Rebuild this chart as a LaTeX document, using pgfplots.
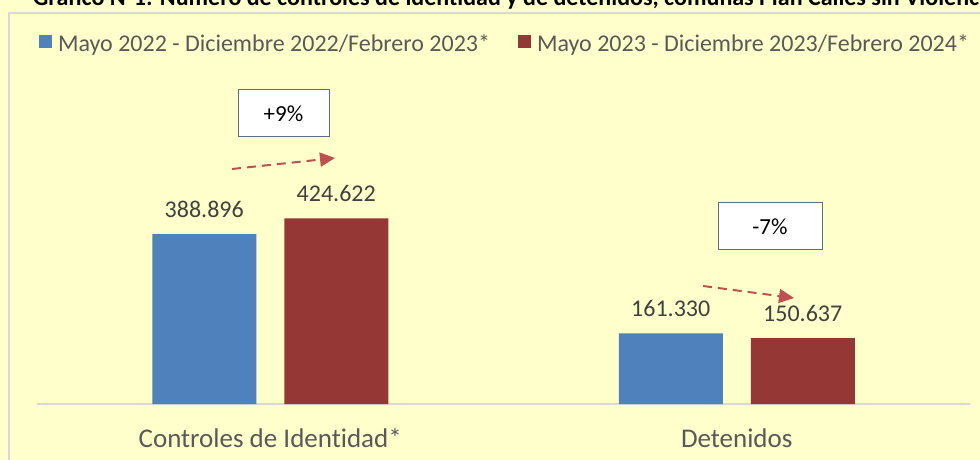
\documentclass[border=0pt]{standalone}
\usepackage{fontspec}
\setmainfont{Carlito}[Ligatures={NoCommon}]
\usepackage{pgfplots}
\pgfplotsset{compat=1.18}
\usetikzlibrary{arrows.meta}
\definecolor{bg}{HTML}{FFFFCC}
\definecolor{framec}{HTML}{D9D9D9}
\definecolor{blueS}{HTML}{4F81BD}
\definecolor{redS}{HTML}{953735}
\definecolor{arr}{HTML}{C0504D}
\definecolor{txt}{HTML}{595959}
\definecolor{lbl}{HTML}{404040}
\definecolor{boxc}{HTML}{5A6F83}
\begin{document}
\begin{tikzpicture}
\path[use as bounding box] (0bp,0bp) rectangle (980bp,460bp);
\clip (0bp,0bp) rectangle (980bp,460bp);
\fill[bg] (0bp,0bp) rectangle (980bp,460bp);
\draw[framec, line width=1.5bp] (9bp,-5bp) -- (9bp,447bp) -- (990bp,447bp);
\node[anchor=base west, inner sep=0pt, font=\fontsize{24bp}{28bp}\selectfont\bfseries] at (33bp,454bp) {Gráfico N°1: Número de controles de identidad y de detenidos, comunas Plan Calles sin Violencia};
\begin{axis}[
  at={(37bp,56bp)}, anchor=south west,
  scale only axis, width=933bp, height=344bp,
  xmin=-0.5, xmax=1.5, ymin=0, ymax=787000,
  clip=false,
  ybar=28bp, bar width=104bp,
  axis y line=none, axis x line*=bottom,
  x axis line style={draw=framec, line width=1.5bp},
  xtick={0,1}, xticklabels={Controles de Identidad*, Detenidos},
  major tick length=0pt,
  xticklabel style={font=\fontsize{27bp}{31bp}\selectfont, text=txt, anchor=base, yshift=-43bp, inner sep=0pt},
  /pgf/number format/assume math mode=true,
  /pgf/number format/fixed, /pgf/number format/precision=0, /pgf/number format/1000 sep={.},
  nodes near coords,
  nodes near coords style={font=\fontsize{24bp}{28bp}\selectfont, text=lbl, anchor=base, yshift=17bp, inner sep=0pt},
  legend columns=2,
  legend style={at={(0.002,1.046)}, anchor=west, draw=none, fill=none, inner sep=0pt,
    font=\fontsize{24bp}{28bp}\selectfont, text=txt,
    /tikz/every odd column/.append style={column sep=6bp},
    /tikz/every even column/.append style={column sep=28bp},
    nodes={inner sep=0pt}},
  legend image code/.code={\fill[#1] (0bp,-4bp) rectangle (13bp,9bp);},
]
\addplot[fill=blueS, draw=none] coordinates {(0,388896) (1,161330)};
\addplot[fill=redS, draw=none] coordinates {(0,424622) (1,150637)};
\legend{Mayo 2022 - Diciembre 2022/Febrero 2023*, Mayo 2023 - Diciembre 2023/Febrero 2024*}
\end{axis}
\draw[boxc, fill=white, line width=1bp] (238bp,323bp) rectangle (329bp,370bp);
\node[font=\fontsize{23bp}{27bp}\selectfont] at (283.5bp,346.5bp) {+9\%};
\draw[boxc, fill=white, line width=1bp] (718bp,210bp) rectangle (822bp,257bp);
\node[font=\fontsize{23bp}{27bp}\selectfont] at (770bp,233.5bp) {-7\%};
\draw[arr, line width=2bp, dash pattern=on 9bp off 6bp, -{Triangle[length=15bp,width=14bp]}] (232bp,291bp) -- (335bp,302bp);
\draw[arr, line width=2bp, dash pattern=on 9bp off 6bp, -{Triangle[length=15bp,width=14bp]}] (703bp,174bp) -- (794bp,162bp);
\end{tikzpicture}
\end{document}
